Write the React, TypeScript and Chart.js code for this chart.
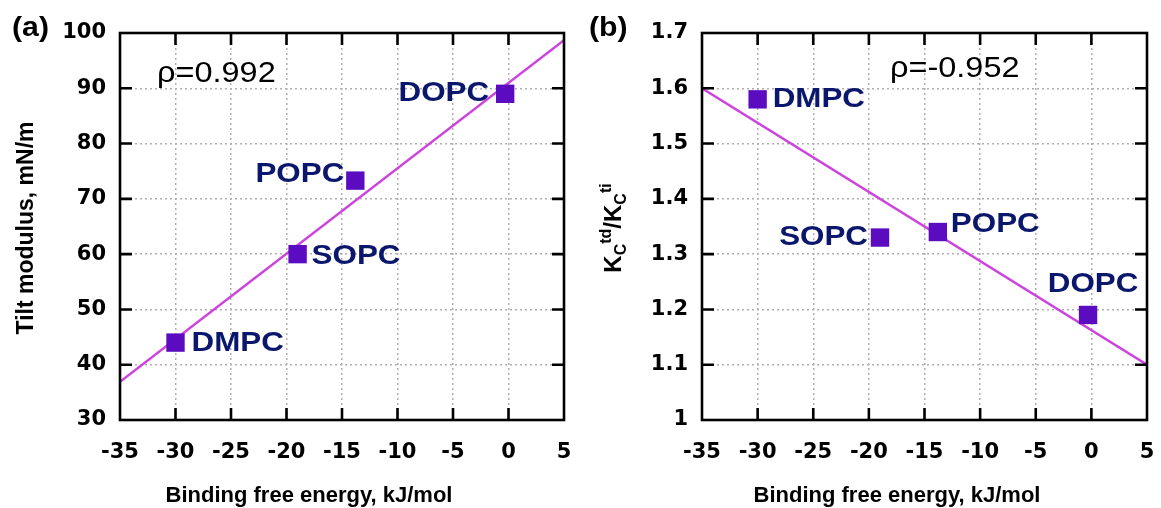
import React, { useEffect, useRef } from 'react';
import { Chart, registerables } from 'chart.js';

Chart.register(...registerables);

// ---------------- data ----------------
const lipids = ['DMPC', 'SOPC', 'POPC', 'DOPC'];
const bindingEnergy = [-30, -19, -13.8, -0.3];
const tiltModulus = [44, 60, 73.3, 89];
const kcRatio = [1.58, 1.33, 1.34, 1.19];

const fitTiltX = [-35, 5];
const fitTiltY = [36.9, 98.7];
const fitRatioX = [-35, 5];
const fitRatioY = [1.6, 1.1];

const xTicks = [-35, -30, -25, -20, -15, -10, -5, 0, 5];
const xTickLabels = ['-35', '-30', '-25', '-20', '-15', '-10', '-5', '0', '5'];
const yTicksA = [30, 40, 50, 60, 70, 80, 90, 100];
const yTickLabelsA = ['30', '40', '50', '60', '70', '80', '90', '100'];
const yTicksB = [1, 1.1, 1.2, 1.3, 1.4, 1.5, 1.6, 1.7];
const yTickLabelsB = ['1', '1.1', '1.2', '1.3', '1.4', '1.5', '1.6', '1.7'];

const rhoA = 'ρ=0.992';
const rhoB = 'ρ=-0.952';
const xTitle = 'Binding free energy, kJ/mol';
const yTitleA = 'Tilt modulus, mN/m';

// ---------------- style ----------------
const LABEL_COLOR = '#0a176c';
const MARKER_COLOR = '#5b0cc0';
const LINE_COLOR = '#cc44dd';
const GRID_COLOR = '#b0b0b0';
const SANS = '"Liberation Sans", Arial, sans-serif';
const TICK_FONT = { family: '"DejaVu Sans", sans-serif', weight: 'bold' as const, size: 21 };
const TEXT_STRETCH = 1.12;

type Placement = [CanvasTextAlign, number, number];

const placementA: Placement[] = [
  ['left', 16, 1],
  ['left', 14, 2],
  ['right', -11, -6],
  ['right', -16, -1],
];
const placementB: Placement[] = [
  ['left', 15, 0],
  ['right', -12, 0],
  ['left', 13, -8],
  ['center', 5, -31],
];

interface Panel {
  key: string;
  letter: string;
  canvasLeft: number;
  canvasWidth: number;
  yAxisWidth: number;
  padRight: number;
  yValues: number[];
  fitX: number[];
  fitY: number[];
  yTicks: number[];
  yTickLabels: string[];
  rho: string;
  rhoPos: [number, number];
  letterPos: [number, number];
  titleX: number;
  placement: Placement[];
  drawYTitle: (ctx: CanvasRenderingContext2D) => void;
}

function stretchedText(
  ctx: CanvasRenderingContext2D,
  text: string,
  x: number,
  y: number,
  font: string,
  align: CanvasTextAlign,
  baseline: CanvasTextBaseline,
  color: string
) {
  ctx.save();
  ctx.translate(x, y);
  ctx.scale(TEXT_STRETCH, 1);
  ctx.font = font;
  ctx.textAlign = align;
  ctx.textBaseline = baseline;
  ctx.fillStyle = color;
  ctx.fillText(text, 0, 0);
  ctx.restore();
}

function drawTitleA(ctx: CanvasRenderingContext2D) {
  ctx.save();
  ctx.translate(27, 228);
  ctx.rotate(-Math.PI / 2);
  ctx.font = `bold 23px ${SANS}`;
  ctx.textAlign = 'center';
  ctx.textBaseline = 'middle';
  ctx.fillStyle = '#000';
  ctx.fillText(yTitleA, 0, 0);
  ctx.restore();
}

function drawTitleB(ctx: CanvasRenderingContext2D) {
  const parts: [string, number, number][] = [
    ['K', 24, 0],
    ['C', 16, 5],
    ['td', 16, -10],
    ['/', 24, 0],
    ['K', 24, 0],
    ['C', 16, 5],
    ['ti', 16, -10],
  ];
  ctx.save();
  ctx.translate(41, 228);
  ctx.rotate(-Math.PI / 2);
  ctx.fillStyle = '#000';
  ctx.textBaseline = 'alphabetic';
  ctx.textAlign = 'left';
  let total = 0;
  for (const [t, s] of parts) {
    ctx.font = `bold ${s}px ${SANS}`;
    total += ctx.measureText(t).width;
  }
  let u = -total / 2;
  for (const [t, s, dy] of parts) {
    ctx.font = `bold ${s}px ${SANS}`;
    ctx.fillText(t, u, dy);
    u += ctx.measureText(t).width;
  }
  ctx.restore();
}

const panels: Panel[] = [
  {
    key: 'a',
    letter: '(a)',
    canvasLeft: 0,
    canvasWidth: 580,
    yAxisWidth: 120,
    padRight: 16,
    yValues: tiltModulus,
    fitX: fitTiltX,
    fitY: fitTiltY,
    yTicks: yTicksA,
    yTickLabels: yTickLabelsA,
    rho: rhoA,
    rhoPos: [157, 82],
    letterPos: [12, 29],
    titleX: 309,
    placement: placementA,
    drawYTitle: drawTitleA,
  },
  {
    key: 'b',
    letter: '(b)',
    canvasLeft: 580,
    canvasWidth: 581,
    yAxisWidth: 122,
    padRight: 14,
    yValues: kcRatio,
    fitX: fitRatioX,
    fitY: fitRatioY,
    yTicks: yTicksB,
    yTickLabels: yTickLabelsB,
    rho: rhoB,
    rhoPos: [310, 77],
    letterPos: [9, 29],
    titleX: 317,
    placement: placementB,
    drawYTitle: drawTitleB,
  },
];

function makeDecor(p: Panel) {
  return {
    id: 'decor_' + p.key,
    afterDatasetsDraw(chart: any) {
      const { ctx, chartArea: a, scales } = chart;
      const xs = scales.x;
      const ys = scales.y;
      ctx.save();
      // frame
      ctx.strokeStyle = '#000';
      ctx.lineWidth = 2.6;
      ctx.setLineDash([]);
      ctx.strokeRect(a.left, a.top, a.right - a.left, a.bottom - a.top);
      // inward ticks
      const TL = 12;
      ctx.beginPath();
      xTicks.forEach((v) => {
        const x = xs.getPixelForValue(v);
        if (x <= a.left + 1 || x >= a.right - 1) return;
        ctx.moveTo(x, a.bottom);
        ctx.lineTo(x, a.bottom - TL);
        ctx.moveTo(x, a.top);
        ctx.lineTo(x, a.top + TL);
      });
      p.yTicks.forEach((v) => {
        const y = ys.getPixelForValue(v);
        if (y <= a.top + 1 || y >= a.bottom - 1) return;
        ctx.moveTo(a.left, y);
        ctx.lineTo(a.left + TL, y);
        ctx.moveTo(a.right, y);
        ctx.lineTo(a.right - TL, y);
      });
      ctx.stroke();
      ctx.restore();

      // point labels
      lipids.forEach((name, i) => {
        const px = xs.getPixelForValue(bindingEnergy[i]);
        const py = ys.getPixelForValue(p.yValues[i]);
        const [align, dx, dy] = p.placement[i];
        stretchedText(ctx, name, px + dx, py + dy, `bold 28px ${SANS}`, align, 'middle', LABEL_COLOR);
      });

      // panel letter & correlation
      stretchedText(ctx, p.letter, p.letterPos[0], p.letterPos[1], `bold 27px ${SANS}`, 'left', 'middle', '#000');
      stretchedText(ctx, p.rho, p.rhoPos[0], p.rhoPos[1], `29px ${SANS}`, 'left', 'alphabetic', '#000');

      // axis titles
      ctx.save();
      ctx.font = `bold 22px ${SANS}`;
      ctx.textAlign = 'center';
      ctx.textBaseline = 'middle';
      ctx.fillStyle = '#000';
      ctx.fillText(xTitle, p.titleX, 496);
      ctx.restore();
      p.drawYTitle(ctx);
    },
  };
}

function PanelChart({ p }: { p: Panel }) {
  const ref = useRef<HTMLCanvasElement>(null);
  useEffect(() => {
    const canvas = ref.current;
    if (!canvas) return;
    const points = bindingEnergy.map((x, i) => ({ x, y: p.yValues[i] }));
    const fit = p.fitX.map((x, i) => ({ x, y: p.fitY[i] }));
    const chart = new Chart(canvas, {
      type: 'scatter',
      data: {
        datasets: [
          {
            data: points,
            pointStyle: 'rect',
            pointRadius: 13,
            pointHoverRadius: 13,
            backgroundColor: MARKER_COLOR,
            borderColor: MARKER_COLOR,
            borderWidth: 0,
            showLine: false,
            order: 0,
          },
          {
            data: fit,
            showLine: true,
            borderColor: LINE_COLOR,
            borderWidth: 2.5,
            pointRadius: 0,
            pointHoverRadius: 0,
            fill: false,
            order: 1,
          },
        ],
      },
      options: {
        responsive: false,
        maintainAspectRatio: false,
        animation: false,
        devicePixelRatio: 1,
        layout: { padding: { left: 0, right: p.padRight, top: 33, bottom: 0 } },
        plugins: {
          legend: { display: false },
          tooltip: { enabled: false },
        },
        events: [],
        scales: {
          x: {
            type: 'linear',
            min: -35,
            max: 5,
            afterBuildTicks: (scale: any) => {
              scale.ticks = xTicks.map((v) => ({ value: v }));
            },
            afterFit: (scale: any) => {
              scale.height = 88;
              scale.paddingLeft = 0;
              scale.paddingRight = 0;
              scale.paddingTop = 0;
              scale.paddingBottom = 0;
            },
            ticks: {
              color: '#000',
              font: TICK_FONT,
              padding: 20,
              maxRotation: 0,
              autoSkip: false,
              callback: (_v: any, i: number) => xTickLabels[i],
            },
            grid: {
              color: GRID_COLOR,
              lineWidth: 1.5,
              drawTicks: false,
            },
            border: { display: false, dash: [2, 3] },
          },
          y: {
            type: 'linear',
            min: p.yTicks[0],
            max: p.yTicks[p.yTicks.length - 1],
            afterBuildTicks: (scale: any) => {
              scale.ticks = p.yTicks.map((v) => ({ value: v }));
            },
            afterFit: (scale: any) => {
              scale.width = p.yAxisWidth;
              scale.paddingLeft = 0;
              scale.paddingRight = 0;
              scale.paddingTop = 0;
              scale.paddingBottom = 0;
            },
            ticks: {
              color: '#000',
              font: TICK_FONT,
              padding: 14,
              autoSkip: false,
              callback: (_v: any, i: number) => p.yTickLabels[i],
            },
            grid: {
              color: GRID_COLOR,
              lineWidth: 1.5,
              drawTicks: false,
            },
            border: { display: false, dash: [2, 3] },
          },
        },
      },
      plugins: [makeDecor(p)],
    } as any);
    return () => chart.destroy();
  }, [p]);
  return (
    <canvas
      ref={ref}
      width={p.canvasWidth}
      height={508}
      style={{ position: 'absolute', left: p.canvasLeft, top: 0, width: p.canvasWidth, height: 508 }}
    />
  );
}

export default function App() {
  return (
    <div
      style={{
        position: 'absolute',
        left: 0,
        top: 0,
        width: 1161,
        height: 508,
        background: '#fff',
        overflow: 'hidden',
      }}
    >
      {panels.map((p) => (
        <PanelChart key={p.key} p={p} />
      ))}
    </div>
  );
}
